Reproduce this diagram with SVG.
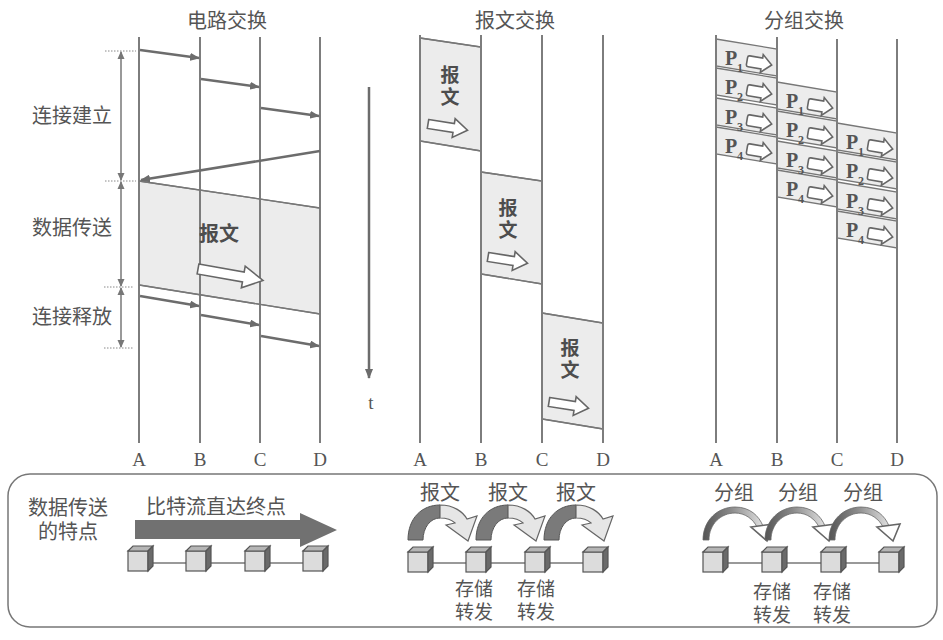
<svg xmlns="http://www.w3.org/2000/svg" xmlns:xlink="http://www.w3.org/1999/xlink" width="943" height="640" viewBox="0 0 943 640">
<style>
.life{stroke:#7d7d7d;stroke-width:2;fill:none}
.sig{stroke:#6c6c6c;stroke-width:2.5;fill:none;marker-end:url(#ah)}
.span{stroke:#777;stroke-width:1.5;fill:none;marker-start:url(#ah2);marker-end:url(#ah2)}
.dot{stroke:#888;stroke-width:1;stroke-dasharray:1.5 1.5}
.shade{fill:#ececec;stroke:#777;stroke-width:1.3}
.cjk{font-family:"Noto Sans CJK SC","Noto Sans",sans-serif;font-size:20px;fill:#555}
.st{font-size:19px}
.vt{writing-mode:vertical-rl;letter-spacing:3px}
.b{font-weight:bold;fill:#4d4d4d}
.ser{font-family:"Liberation Serif",serif;font-size:19px;fill:#555}
.pk{font-family:"Liberation Serif",serif;font-size:20px;font-weight:bold;fill:#555}
.sub{font-family:"Liberation Serif",serif;font-size:12px;font-weight:bold;fill:#555}
.ha{fill:#fff;stroke:#666;stroke-width:1.6}
.link{stroke:#777;stroke-width:1.5}
.dk{fill:#7a7a7a;stroke:#555;stroke-width:1}
.lt{fill:#e6e6e6;stroke:#666;stroke-width:1.2}
</style>
<defs>
<marker id="ah" markerUnits="userSpaceOnUse" markerWidth="10" markerHeight="8" refX="9" refY="4" orient="auto"><path d="M0,0 L10,4 L0,8 Z" fill="#6c6c6c"/></marker>
<marker id="ah2" markerUnits="userSpaceOnUse" markerWidth="8" markerHeight="8" refX="7" refY="4" orient="auto-start-reverse"><path d="M0,0.5 L8,4 L0,7.5 Z" fill="#777"/></marker>
<path id="bigHollow" d="M0,-5 H46 V-11 L66,0 L46,11 V5 H0 Z"/>
<path id="midHollow" d="M0,-4.5 H26 V-9.5 L40,0 L26,9.5 V4.5 H0 Z"/>
<path id="pHollow" d="M2,-5.5 H15 V-9 L25,0 L15,9 V5.5 H2 Q0,5.5 0,3.5 V-3.5 Q0,-5.5 2,-5.5 Z"/>
<g id="cube">
<rect x="0" y="5" width="20" height="20" fill="#dcdcdc" stroke="#555" stroke-width="1.2"/>
<polygon points="0,5 5,0 25,0 20,5" fill="#b5b5b5" stroke="#555" stroke-width="1.2"/>
<polygon points="20,5 25,0 25,20 20,25" fill="#6a6a6a" stroke="#555" stroke-width="1.2"/>
</g>
<linearGradient id="arcg" x1="0" y1="0" x2="1" y2="0">
<stop offset="0" stop-color="#555"/><stop offset="0.45" stop-color="#888"/><stop offset="1" stop-color="#e0e0e0"/>
</linearGradient>
</defs>
<rect width="943" height="640" fill="#fff"/>

<!-- Titles -->
<text class="cjk" x="227" y="28" text-anchor="middle">电路交换</text>
<text class="cjk" x="515" y="28" text-anchor="middle">报文交换</text>
<text class="cjk" x="804" y="28" text-anchor="middle">分组交换</text>

<!-- Circuit switching -->
<g id="circuit">
<polygon class="shade" points="139,181 320,208 320,314 139,285" stroke="none"/>
<line class="life" x1="139" y1="37" x2="139" y2="443"/>
<line class="life" x1="200" y1="37" x2="200" y2="443"/>
<line class="life" x1="260" y1="37" x2="260" y2="443"/>
<line class="life" x1="320" y1="37" x2="320" y2="443"/>
<line x1="139" y1="181" x2="320" y2="208" stroke="#777" stroke-width="1.3"/>
<line x1="139" y1="285" x2="320" y2="314" stroke="#777" stroke-width="1.3"/>
<text class="cjk b" x="219" y="241" text-anchor="middle">报文</text>
<use href="#bigHollow" class="ha" transform="translate(198,269) rotate(10)"/>
<text class="ser" x="139" y="466" text-anchor="middle">A</text>
<text class="ser" x="200" y="466" text-anchor="middle">B</text>
<text class="ser" x="260" y="466" text-anchor="middle">C</text>
<text class="ser" x="320" y="466" text-anchor="middle">D</text>
<line class="dot" x1="105" y1="51" x2="136" y2="51"/>
<line class="dot" x1="105" y1="181" x2="136" y2="181"/>
<line class="dot" x1="104" y1="287" x2="134" y2="287"/>
<line class="dot" x1="104" y1="348" x2="134" y2="348"/>
<text class="cjk" x="72" y="123" text-anchor="middle">连接建立</text>
<text class="cjk" x="72" y="235" text-anchor="middle">数据传送</text>
<text class="cjk" x="72" y="324" text-anchor="middle">连接释放</text>
</g>

<g id="connectors">
<line class="span" x1="121" y1="52" x2="121" y2="180"/>
<line class="span" x1="121" y1="182" x2="121" y2="286"/>
<line class="span" x1="121" y1="288" x2="121" y2="347"/>
<line class="sig" x1="140" y1="50" x2="199" y2="58"/>
<line class="sig" x1="201" y1="79" x2="259" y2="87"/>
<line class="sig" x1="261" y1="108" x2="319" y2="116"/>
<line class="sig" x1="320" y1="151" x2="141" y2="180"/>
<line class="sig" x1="140" y1="296" x2="199" y2="306"/>
<line class="sig" x1="201" y1="315" x2="259" y2="325"/>
<line class="sig" x1="261" y1="336" x2="319" y2="346"/>
<line x1="369" y1="87" x2="369" y2="378" stroke="#6c6c6c" stroke-width="2.5" marker-end="url(#ah)"/>
</g>
<text class="ser" x="371" y="409" text-anchor="middle">t</text>

<!-- Message switching -->
<g id="message">
<polygon class="shade" points="420,38 481,47 481,151 420,141" stroke="none"/>
<polygon class="shade" points="481,172 542,181 542,284 481,274" stroke="none"/>
<polygon class="shade" points="542,313 603,323 603,429 542,419" stroke="none"/>
<line x1="420" y1="38" x2="481" y2="47" stroke="#777" stroke-width="1.3"/>
<line x1="420" y1="141" x2="481" y2="151" stroke="#777" stroke-width="1.3"/>
<line x1="481" y1="172" x2="542" y2="181" stroke="#777" stroke-width="1.3"/>
<line x1="481" y1="274" x2="542" y2="284" stroke="#777" stroke-width="1.3"/>
<line x1="542" y1="313" x2="603" y2="323" stroke="#777" stroke-width="1.3"/>
<line x1="542" y1="419" x2="603" y2="429" stroke="#777" stroke-width="1.3"/>
<line class="life" x1="420" y1="35" x2="420" y2="443"/>
<line class="life" x1="481" y1="35" x2="481" y2="443"/>
<line class="life" x1="542" y1="35" x2="542" y2="443"/>
<line class="life" x1="603" y1="35" x2="603" y2="443"/>
<text class="cjk b st vt" x="450" y="65">报文</text>
<use href="#midHollow" class="ha" transform="translate(428,124) rotate(9)"/>
<text class="cjk b st vt" x="508" y="198">报文</text>
<use href="#midHollow" class="ha" transform="translate(488,257) rotate(9)"/>
<text class="cjk b st vt" x="570" y="338">报文</text>
<use href="#midHollow" class="ha" transform="translate(549,402) rotate(9)"/>
<text class="ser" x="420" y="466" text-anchor="middle">A</text>
<text class="ser" x="481" y="466" text-anchor="middle">B</text>
<text class="ser" x="542" y="466" text-anchor="middle">C</text>
<text class="ser" x="603" y="466" text-anchor="middle">D</text>
</g>

<!-- Packet switching -->
<g id="packet">
<g class="shade">
<polygon points="716,39 777,49 777,76 716,66"/>
<polygon points="716,68 777,78 777,105 716,95"/>
<polygon points="716,98 777,108 777,135 716,125"/>
<polygon points="716,127 777,137 777,164 716,154"/>
<polygon points="777,82 837,92 837,119 777,109"/>
<polygon points="777,111 837,121 837,148 777,138"/>
<polygon points="777,141 837,151 837,178 777,168"/>
<polygon points="777,170 837,180 837,207 777,197"/>
<polygon points="837,123 897,133 897,160 837,150"/>
<polygon points="837,152 897,162 897,189 837,179"/>
<polygon points="837,182 897,192 897,219 837,209"/>
<polygon points="837,211 897,221 897,248 837,238"/>
</g>
<line class="life" x1="716" y1="35" x2="716" y2="443"/>
<line class="life" x1="777" y1="37" x2="777" y2="443"/>
<line class="life" x1="837" y1="39" x2="837" y2="443"/>
<line class="life" x1="897" y1="39" x2="897" y2="443"/>
<g>
<text class="pk" x="725" y="65">P</text><text class="sub" x="737" y="72">1</text>
<text class="pk" x="725" y="94">P</text><text class="sub" x="737" y="101">2</text>
<text class="pk" x="725" y="124">P</text><text class="sub" x="737" y="131">3</text>
<text class="pk" x="725" y="153">P</text><text class="sub" x="737" y="160">4</text>
<text class="pk" x="786" y="108">P</text><text class="sub" x="798" y="115">1</text>
<text class="pk" x="786" y="137">P</text><text class="sub" x="798" y="144">2</text>
<text class="pk" x="786" y="167">P</text><text class="sub" x="798" y="174">3</text>
<text class="pk" x="786" y="196">P</text><text class="sub" x="798" y="203">4</text>
<text class="pk" x="846" y="149">P</text><text class="sub" x="858" y="156">1</text>
<text class="pk" x="846" y="178">P</text><text class="sub" x="858" y="185">2</text>
<text class="pk" x="846" y="208">P</text><text class="sub" x="858" y="215">3</text>
<text class="pk" x="846" y="237">P</text><text class="sub" x="858" y="244">4</text>
</g>
<g class="ha">
<use href="#pHollow" transform="translate(747,61) rotate(9.3)"/>
<use href="#pHollow" transform="translate(747,90) rotate(9.3)"/>
<use href="#pHollow" transform="translate(747,120) rotate(9.3)"/>
<use href="#pHollow" transform="translate(747,149) rotate(9.3)"/>
<use href="#pHollow" transform="translate(808,104) rotate(9.3)"/>
<use href="#pHollow" transform="translate(808,133) rotate(9.3)"/>
<use href="#pHollow" transform="translate(808,163) rotate(9.3)"/>
<use href="#pHollow" transform="translate(808,192) rotate(9.3)"/>
<use href="#pHollow" transform="translate(868,145) rotate(9.3)"/>
<use href="#pHollow" transform="translate(868,174) rotate(9.3)"/>
<use href="#pHollow" transform="translate(868,204) rotate(9.3)"/>
<use href="#pHollow" transform="translate(868,233) rotate(9.3)"/>
</g>
<text class="ser" x="716" y="466" text-anchor="middle">A</text>
<text class="ser" x="777" y="466" text-anchor="middle">B</text>
<text class="ser" x="837" y="466" text-anchor="middle">C</text>
<text class="ser" x="897" y="466" text-anchor="middle">D</text>
</g>

<!-- Bottom panel -->
<g id="panel">
<rect x="8" y="474" width="929" height="153" rx="22" fill="none" stroke="#777" stroke-width="1.5"/>
<text class="cjk" text-anchor="middle"><tspan x="68" y="515">数据传送</tspan><tspan x="68" y="539">的特点</tspan></text>
</g>

<g id="bitstream">
<text class="cjk" x="216" y="514" text-anchor="middle">比特流直达终点</text>
<polygon points="135,520 300,520 300,513 337,530 300,547 300,539 135,539" fill="#717171"/>
<line class="link" x1="148" y1="563" x2="305" y2="563"/>
<use href="#cube" x="128" y="546"/>
<use href="#cube" x="186" y="546"/>
<use href="#cube" x="245" y="546"/>
<use href="#cube" x="303" y="546"/>
</g>

<g id="storefwd-msg">
<text class="cjk" x="440" y="500" text-anchor="middle">报文</text>
<text class="cjk" x="508" y="500" text-anchor="middle">报文</text>
<text class="cjk" x="576" y="500" text-anchor="middle">报文</text>
<g>
<path class="dk" d="M408,540 C408,518 422,505 440,505 L440,518 C430,518 423,528 423,540 Z"/>
<path class="lt" d="M440,505 C454,505 463,512 467,519 L477,516 L468,541 L446,525 L455,523 C452,520 447,518 440,518 Z"/>
</g>
<g transform="translate(68,0)">
<path class="dk" d="M408,540 C408,518 422,505 440,505 L440,518 C430,518 423,528 423,540 Z"/>
<path class="lt" d="M440,505 C454,505 463,512 467,519 L477,516 L468,541 L446,525 L455,523 C452,520 447,518 440,518 Z"/>
</g>
<g transform="translate(136,0)">
<path class="dk" d="M408,540 C408,518 422,505 440,505 L440,518 C430,518 423,528 423,540 Z"/>
<path class="lt" d="M440,505 C454,505 463,512 467,519 L477,516 L468,541 L446,525 L455,523 C452,520 447,518 440,518 Z"/>
</g>
<line class="link" x1="428" y1="563" x2="585" y2="563"/>
<use href="#cube" x="408" y="547"/>
<use href="#cube" x="466" y="547"/>
<use href="#cube" x="525" y="547"/>
<use href="#cube" x="583" y="547"/>
<text class="cjk st" text-anchor="middle"><tspan x="474" y="596">存储</tspan><tspan x="474" y="619">转发</tspan></text>
<text class="cjk st" text-anchor="middle"><tspan x="536" y="596">存储</tspan><tspan x="536" y="619">转发</tspan></text>
</g>

<g id="storefwd-pkt">
<text class="cjk" x="734" y="500" text-anchor="middle">分组</text>
<text class="cjk" x="798" y="500" text-anchor="middle">分组</text>
<text class="cjk" x="863" y="500" text-anchor="middle">分组</text>
<g>
<path d="M703,540 C703,520 718,507 735,507 C750,507 759,516 763,526 L757,527 C753,519 745,513 735,513 C721,513 709,524 709,540 Z" fill="url(#arcg)" stroke="#666" stroke-width="0.8"/>
<path class="ha" d="M751,527 L774,524 L767,541 Z"/>
</g>
<g transform="translate(62,0)">
<path d="M703,540 C703,520 718,507 735,507 C750,507 759,516 763,526 L757,527 C753,519 745,513 735,513 C721,513 709,524 709,540 Z" fill="url(#arcg)" stroke="#666" stroke-width="0.8"/>
<path class="ha" d="M751,527 L774,524 L767,541 Z"/>
</g>
<g transform="translate(126,0)">
<path d="M703,540 C703,520 718,507 735,507 C750,507 759,516 763,526 L757,527 C753,519 745,513 735,513 C721,513 709,524 709,540 Z" fill="url(#arcg)" stroke="#666" stroke-width="0.8"/>
<path class="ha" d="M751,527 L774,524 L767,541 Z"/>
</g>
<line class="link" x1="723" y1="563" x2="881" y2="563"/>
<use href="#cube" x="703" y="547"/>
<use href="#cube" x="762" y="547"/>
<use href="#cube" x="821" y="547"/>
<use href="#cube" x="879" y="547"/>
<text class="cjk st" text-anchor="middle"><tspan x="772" y="599">存储</tspan><tspan x="772" y="622">转发</tspan></text>
<text class="cjk st" text-anchor="middle"><tspan x="832" y="599">存储</tspan><tspan x="832" y="622">转发</tspan></text>
</g>
</svg>
